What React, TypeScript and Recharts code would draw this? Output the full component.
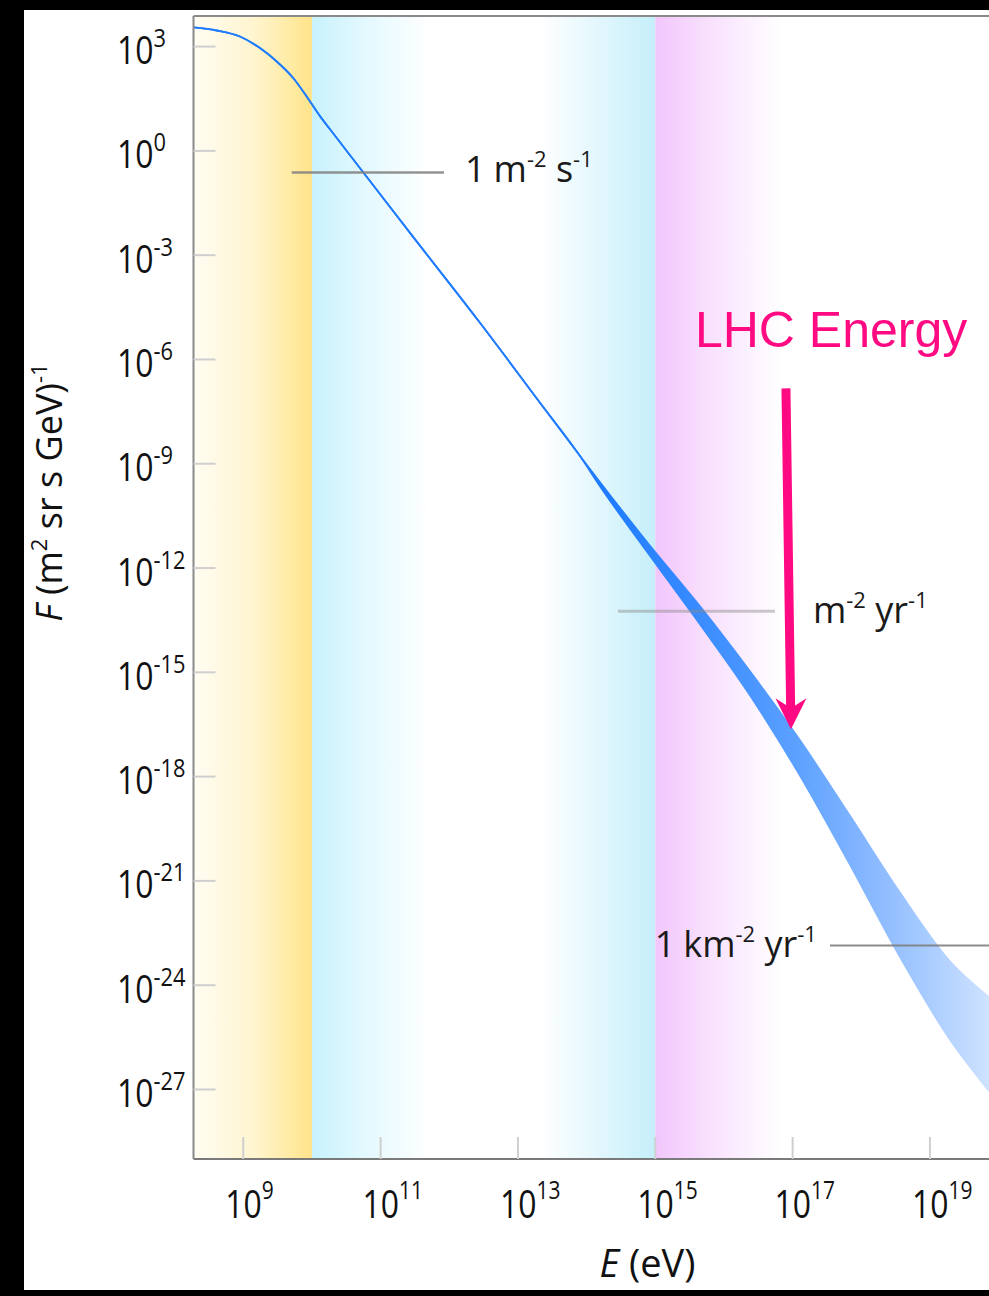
import React from 'react';
import { ComposedChart, Area, XAxis, YAxis, ReferenceArea, ReferenceLine } from 'recharts';

// log10(E / eV)
const energyLog = [
  8.275, 8.613, 8.952, 9.243, 9.487, 9.724, 9.923, 10.117, 10.263, 10.743,
  11.428, 12.447, 13.321, 13.904, 14.195, 14.923, 15.651, 16.379, 17.107,
  17.835, 18.563, 19.291, 19.86,
];
// log10 of flux, upper edge of the band
const fluxHigh = [
  3.55, 3.463, 3.29, 2.957, 2.572, 2.103, 1.566, 1.0, 0.62, -0.606,
  -2.359, -4.945, -7.244, -8.779, -9.532, -11.36, -13.101, -14.971, -16.957,
  -19.129, -21.337, -23.314, -24.344,
];
// log10 of flux, lower edge of the band
const fluxLow = [
  3.55, 3.463, 3.29, 2.957, 2.572, 2.103, 1.566, 1.0, 0.62, -0.606,
  -2.359, -4.945, -7.244, -8.779, -9.647, -11.647, -13.619, -15.662, -17.97,
  -20.531, -23.187, -25.561, -27.043,
];

const xTicks = [9, 11, 13, 15, 17, 19];
const yTicks = [3, 0, -3, -6, -9, -12, -15, -18, -21, -24, -27];
const xDomain: [number, number] = [8.275, 19.86];
const yDomain: [number, number] = [-29, 3.88];

// energy regions (log10 E)
const yellowRegion = [8.275, 10];
const cyanLowRegion = [10, 11.72];
const cyanHighRegion = [13.32, 15];
const pinkRegion = [15, 16.85];

// guide lines: [eStart, eEnd, flux]
const guideSecond = [9.705, 11.923, -0.62];
const guideYear = [14.457, 16.743, -13.245];
const guideKm = [17.544, 19.86, -22.856];

// LHC arrow: [eTop, fluxTop, eTip, fluxTip]
const lhcArrow = [16.903, -6.83, 16.976, -16.64];

const rows = energyLog.map((e, i) => ({ e, range: [fluxLow[i], fluxHigh[i]] }));

const TICK_FONT = "'Open Sans', 'Noto Sans', sans-serif";

const supText = (v: number) => (v < 0 ? '-' + Math.abs(v) : String(v));

const YTick = (props: any) => {
  const { x, y, payload } = props;
  return (
    <g>
      <line x1={x} y1={y} x2={x + 22} y2={y} stroke="#cfcfcf" strokeWidth={2} />
      <text
        transform={`translate(${x - 76.5},${y + 17.5}) scale(0.84,1)`}
        fontFamily={TICK_FONT}
        fontSize={38}
        fill="#111"
      >
        10
        <tspan dy={-17} fontSize={26}>{supText(payload.value)}</tspan>
      </text>
    </g>
  );
};

const XTick = (props: any) => {
  const { x, y, payload } = props;
  return (
    <g>
      <line x1={x} y1={y} x2={x} y2={y - 22} stroke="#cfcfcf" strokeWidth={2} />
      <text
        transform={`translate(${x - 18},${y + 59}) scale(0.84,1)`}
        fontFamily={TICK_FONT}
        fontSize={38}
        fill="#111"
      >
        10
        <tspan dy={-19} fontSize={25}>{supText(payload.value)}</tspan>
      </text>
    </g>
  );
};

const annFont = { fontFamily: TICK_FONT, fontSize: 36, fill: '#1a1a1a' };

const SecondLine = (p: any) => (
  <g>
    <line x1={p.x1} y1={p.y1} x2={p.x2} y2={p.y2} stroke="#7f7f7f" strokeWidth={2.5} strokeOpacity={0.85} />
    <text x={p.x2 + 21} y={p.y1 + 10} {...annFont}>
      1<tspan dx={8}>m</tspan>
      <tspan dy={-15} fontSize={22}>-2</tspan>
      <tspan dy={15}> s</tspan>
      <tspan dy={-15} fontSize={22}>-1</tspan>
    </text>
  </g>
);

const YearLine = (p: any) => (
  <g>
    <line x1={p.x1} y1={p.y1} x2={p.x2} y2={p.y2} stroke="#8a8a8a" strokeWidth={3} strokeOpacity={0.45} />
    <text x={p.x2 + 38} y={p.y1 + 12} {...annFont}>
      m<tspan dy={-15} fontSize={22}>-2</tspan>
      <tspan dy={15}> yr</tspan>
      <tspan dy={-15} fontSize={22}>-1</tspan>
    </text>
  </g>
);

const KmLine = (p: any) => (
  <g>
    <line x1={p.x1} y1={p.y1} x2={p.x2} y2={p.y2} stroke="#7f7f7f" strokeWidth={2} strokeOpacity={0.9} />
    <text x={p.x1 - 13} y={p.y1 + 12} textAnchor="end" {...annFont}>
      1<tspan dx={8}>km</tspan>
      <tspan dy={-15} fontSize={22}>-2</tspan>
      <tspan dy={15}> yr</tspan>
      <tspan dy={-15} fontSize={22}>-1</tspan>
    </text>
  </g>
);

const LhcArrow = (p: any) => {
  const { x1, y1, x2, y2 } = p;
  const pink = '#ff0a82';
  const shaftEndX = x1 + (x2 - x1) * ((y2 - 20 - y1) / (y2 - y1));
  return (
    <g>
      <text x={x1 - 91} y={y1 - 41} fontFamily="'Liberation Sans', Arial, sans-serif" fontSize={50} fill={pink}>
        LHC Energy
      </text>
      <line x1={x1} y1={y1} x2={shaftEndX} y2={y2 - 20} stroke={pink} strokeWidth={9} />
      <polygon
        points={`${x2 - 15.5},${y2 - 31} ${x2},${y2} ${x2 + 15.5},${y2 - 31} ${x2},${y2 - 21}`}
        fill={pink}
      />
    </g>
  );
};

export default function App() {
  return (
    <div style={{ position: 'absolute', left: 0, top: 0, width: 989, height: 1296, background: '#000', overflow: 'hidden' }}>
      <div style={{ position: 'absolute', left: 24, top: 10, width: 965, height: 1280, background: '#fff' }} />
      <div style={{ position: 'absolute', left: 0, top: 0 }}>
        <ComposedChart width={989} height={1296} data={rows} margin={{ top: 16, right: 0, bottom: 0, left: 0.5 }}>
          <defs>
            <linearGradient id="yellowGrad" x1="0" y1="0" x2="1" y2="0">
              <stop offset="0" stopColor="#fffdf3" />
              <stop offset="0.5" stopColor="#fff5d0" />
              <stop offset="0.85" stopColor="#ffeaa0" />
              <stop offset="1" stopColor="#ffe389" />
            </linearGradient>
            <linearGradient id="cyanLowGrad" x1="0" y1="0" x2="1" y2="0">
              <stop offset="0" stopColor="#c8f2fd" stopOpacity={1} />
              <stop offset="0.45" stopColor="#c8f2fd" stopOpacity={0.5} />
              <stop offset="1" stopColor="#c8f2fd" stopOpacity={0} />
            </linearGradient>
            <linearGradient id="cyanHighGrad" x1="0" y1="0" x2="1" y2="0">
              <stop offset="0" stopColor="#c6effa" stopOpacity={0} />
              <stop offset="1" stopColor="#c6effa" stopOpacity={1} />
            </linearGradient>
            <linearGradient id="pinkGrad" x1="0" y1="0" x2="1" y2="0">
              <stop offset="0" stopColor="#f2c6fc" stopOpacity={1} />
              <stop offset="0.4" stopColor="#f2c6fc" stopOpacity={0.55} />
              <stop offset="1" stopColor="#f2c6fc" stopOpacity={0} />
            </linearGradient>
            <linearGradient id="bandGrad" x1="0" y1="0" x2="1" y2="0">
              <stop offset="0" stopColor="#1f7cff" />
              <stop offset="0.52" stopColor="#1f7cff" />
              <stop offset="0.637" stopColor="#3a8cff" />
              <stop offset="0.70" stopColor="#4a96ff" />
              <stop offset="0.762" stopColor="#5ea2ff" />
              <stop offset="0.85" stopColor="#88b8ff" />
              <stop offset="0.926" stopColor="#aacdff" />
              <stop offset="1" stopColor="#cfe2ff" />
            </linearGradient>
          </defs>
          <XAxis
            dataKey="e"
            type="number"
            domain={xDomain}
            allowDataOverflow
            ticks={xTicks}
            tickLine={false}
            tickSize={0}
            tickMargin={0}
            height={137}
            axisLine={{ stroke: '#7a7a7a', strokeWidth: 2 }}
            tick={<XTick />}
            label={{
              content: (lp: any) => {
                const vb = lp.viewBox || { x: 193.5, y: 1159 };
                return (
                  <text x={vb.x + 454} y={vb.y + 118} textAnchor="middle" fontFamily={TICK_FONT} fontSize={38} fill="#111">
                    <tspan fontStyle="italic">E</tspan> (eV)
                  </text>
                );
              },
            }}
          />
          <YAxis
            type="number"
            domain={yDomain}
            allowDataOverflow
            ticks={yTicks}
            tickLine={false}
            tickSize={0}
            tickMargin={0}
            width={193}
            axisLine={{ stroke: '#8a8a8a', strokeWidth: 2 }}
            tick={<YTick />}
            label={{
              content: (lp: any) => {
                const vb = lp.viewBox || { x: 0.5, y: 16 };
                return (
                  <text
                    transform={`translate(${vb.x + 61.5},${vb.y + 476.5}) rotate(-90)`}
                    textAnchor="middle"
                    fontFamily={TICK_FONT}
                    fontSize={36}
                    fill="#111"
                  >
                    <tspan fontStyle="italic">F</tspan> (m
                    <tspan dy={-15} fontSize={22}>2</tspan>
                    <tspan dy={15}> sr s GeV)</tspan>
                    <tspan dy={-15} fontSize={22}>-1</tspan>
                  </text>
                );
              },
            }}
          />
          <ReferenceArea x1={yellowRegion[0]} x2={yellowRegion[1]} fill="url(#yellowGrad)" fillOpacity={1} stroke="none" />
          <ReferenceArea x1={cyanLowRegion[0]} x2={cyanLowRegion[1]} fill="url(#cyanLowGrad)" fillOpacity={1} stroke="none" />
          <ReferenceArea x1={cyanHighRegion[0]} x2={cyanHighRegion[1]} fill="url(#cyanHighGrad)" fillOpacity={1} stroke="none" />
          <ReferenceArea x1={pinkRegion[0]} x2={pinkRegion[1]} fill="url(#pinkGrad)" fillOpacity={1} stroke="none" />
          <Area
            type="monotone"
            dataKey="range"
            stroke="url(#bandGrad)"
            strokeWidth={1.8}
            fill="url(#bandGrad)"
            fillOpacity={1}
            dot={false}
            activeDot={false}
            isAnimationActive={false}
          />
          <ReferenceLine y={yDomain[1]} stroke="#8a8a8a" strokeWidth={2} />
          <ReferenceLine
            segment={[{ x: guideSecond[0], y: guideSecond[2] }, { x: guideSecond[1], y: guideSecond[2] }]}
            shape={SecondLine}
          />
          <ReferenceLine
            segment={[{ x: guideYear[0], y: guideYear[2] }, { x: guideYear[1], y: guideYear[2] }]}
            shape={YearLine}
          />
          <ReferenceLine
            segment={[{ x: guideKm[0], y: guideKm[2] }, { x: guideKm[1], y: guideKm[2] }]}
            shape={KmLine}
          />
          <ReferenceLine
            segment={[{ x: lhcArrow[0], y: lhcArrow[1] }, { x: lhcArrow[2], y: lhcArrow[3] }]}
            shape={LhcArrow}
          />
        </ComposedChart>
      </div>
    </div>
  );
}
